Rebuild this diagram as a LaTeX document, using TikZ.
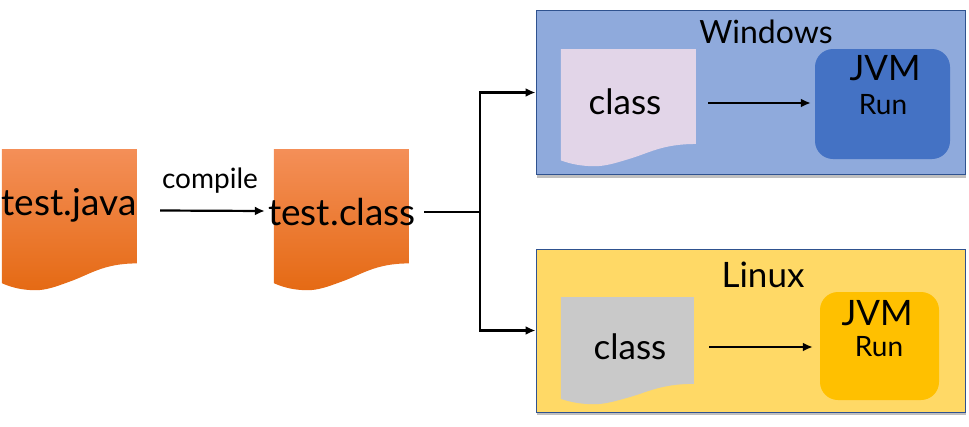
\documentclass[tikz,border=0pt]{standalone}
\usepackage{fontspec}
\setmainfont{Lato}
\usepackage{tikz}
\usetikzlibrary{shapes,arrows,arrows.meta,positioning,calc,shadows}

\definecolor{winblue}{HTML}{8FAADC}
\definecolor{jvmblue}{HTML}{4472C4}
\definecolor{edgeblue}{HTML}{2F528F}
\definecolor{linyellow}{HTML}{FFD966}
\definecolor{jvmgold}{HTML}{FFC000}
\definecolor{lilac}{HTML}{E2D5E8}
\definecolor{paleclass}{HTML}{C9C9C9}
\definecolor{orangetop}{HTML}{F48F58}
\definecolor{orangemid}{HTML}{F07C26}
\definecolor{orangelow}{HTML}{E56A14}

% sheet with a wavy lower edge over a named node
\newcommand{\docsheet}[4]{\path [#1, shift={(#2.south west)}, x=#3, y=#4] (0,1) -- (1,1) -- (1,.19)
  .. controls (.75,.19) and (.65,.11) .. (.5,.06) .. controls (.4,.025) and (.33,0) .. (.25,0)
  .. controls (.15,0) and (.07,.02) .. (0,.05) -- cycle;}

\begin{document}
\begin{tikzpicture}[x=1pt, y=-1pt]
\tikzstyle{osbox} = [rectangle, draw=edgeblue, line width=1pt, minimum width=429pt, inner sep=0pt, drop shadow={opacity=0.5, shadow xshift=1pt, shadow yshift=-3pt}]
\tikzstyle{jvmbox} = [rectangle, rounded corners=18pt, inner sep=0pt]
\tikzstyle{docpage} = [rectangle, inner sep=0pt]
\tikzstyle{line} = [draw, line width=2.2pt, -{Latex[length=10pt,width=9pt]}]
\tikzstyle{plain} = [draw, line width=2.8pt]
\tikzstyle{bigtext} = [font=\fontsize{37}{42}\selectfont, inner sep=0pt]
\tikzstyle{midtext} = [font=\fontsize{35}{40}\selectfont, inner sep=0pt]
\tikzstyle{smalltext} = [font=\fontsize{28}{32}\selectfont, inner sep=0pt]
\tikzstyle{orangefill} = [top color=orangetop, middle color=orangemid, bottom color=orangelow]
\useasboundingbox (0,0) rectangle (969,426);

% source and compiled file
\node [docpage, minimum width=135pt, minimum height=141pt] (java) at (69.5,219.5) {};
\node [docpage, minimum width=135pt, minimum height=141pt, right of=java, node distance=272pt] (class) {};
\docsheet{orangefill}{java}{135pt}{141pt}
\docsheet{orangefill}{class}{135pt}{141pt}
\node [bigtext] (javatext) at (69,205) {test.java};
\node [bigtext] (classtext) at (342,212) {test.class};
\node [smalltext] (compile) at (210,181) {compile};

% windows
\node [osbox, fill=winblue, minimum height=164pt] (windows) at (750.5,92.5) {};
\node [midtext, font=\fontsize{32}{36}\selectfont] (wintext) at (766,32) {Windows};
\node [docpage, minimum width=135pt, minimum height=117pt] (winclass) at (628.5,107.5) {};
\docsheet{fill=lilac}{winclass}{135pt}{117pt}
\node [midtext] at (625,102) (winclasstext) {class};
\node [jvmbox, fill=jvmblue, minimum width=135pt, minimum height=110pt] (winjvm) at (882.5,104) {};
\node [midtext] (winjvmtext) at (885,68) {JVM};
\node [smalltext] (winrun) at (883,105) {Run};

% linux
\node [osbox, fill=linyellow, minimum height=163pt] (linux) at (750.5,330.5) {};
\node [midtext] (lintext) at (763,275) {Linux};
\node [docpage, minimum width=133pt, minimum height=107pt] (linclass) at (627.5,350.5) {};
\docsheet{fill=paleclass}{linclass}{133pt}{107pt}
\node [midtext] at (630,347) (linclasstext) {class};
\node [jvmbox, fill=jvmgold, minimum width=119pt, minimum height=108pt] (linjvm) at (879.5,346) {};
\node [midtext] (linjvmtext) at (877,313) {JVM};
\node [smalltext] (linrun) at (879,347) {Run};

\path [line] ([xshift=23pt,yshift=9pt]java.east) -- ([xshift=-9pt,yshift=8.5pt]class.west);
\coordinate (fork) at (480,212);
\path [plain] ([xshift=15pt,yshift=7.5pt]class.east) -- (fork);
\path [line] (fork) |- (windows.west);
\path [line] (fork) |- (linux.west);
\path [line] ([xshift=12pt,yshift=4.5pt]winclass.east) -- ([xshift=-4pt,yshift=1pt]winjvm.west);
\path [line] ([xshift=15pt,yshift=3.5pt]linclass.east) -- ([xshift=-7pt,yshift=-1pt]linjvm.west);
\end{tikzpicture}
\end{document}
